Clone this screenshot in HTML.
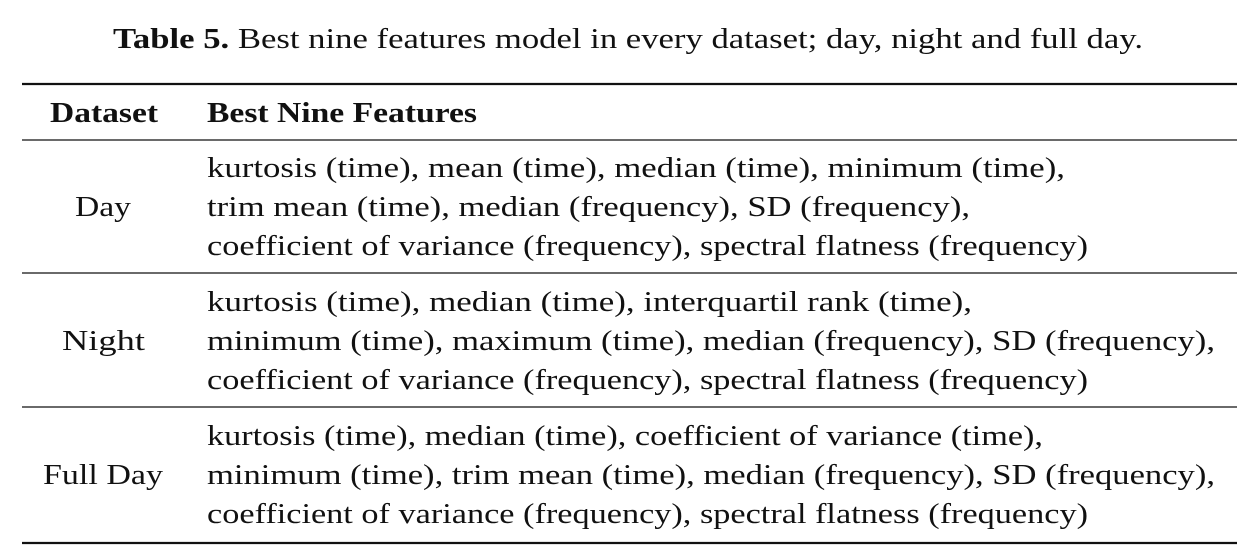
<!DOCTYPE html>
<html><head><meta charset="utf-8"><style>
html,body{margin:0;padding:0;background:#fff;width:1250px;height:555px;overflow:hidden}
svg{display:block}
text{font-family:"Liberation Serif",serif;font-size:29px;fill:#111}
.b{font-weight:bold}
</style></head><body>
<svg width="1250" height="555">
<text x="113" y="48" textLength="1030" lengthAdjust="spacingAndGlyphs"><tspan class="b">Table 5.</tspan> Best nine features model in every dataset; day, night and full day.</text>
<line x1="22" y1="84" x2="1237" y2="84" stroke="#111" stroke-width="2.2"/>
<text class="b" x="50" y="122" textLength="108" lengthAdjust="spacingAndGlyphs">Dataset</text>
<text class="b" x="207" y="122" textLength="270" lengthAdjust="spacingAndGlyphs">Best Nine Features</text>
<line x1="22" y1="140" x2="1237" y2="140" stroke="#111" stroke-width="1.2"/>
<text x="75" y="216" textLength="56" lengthAdjust="spacingAndGlyphs">Day</text>
<text x="207" y="177" textLength="858" lengthAdjust="spacingAndGlyphs">kurtosis (time), mean (time), median (time), minimum (time),</text>
<text x="207" y="216" textLength="763" lengthAdjust="spacingAndGlyphs">trim mean (time), median (frequency), SD (frequency),</text>
<text x="207" y="255" textLength="881" lengthAdjust="spacingAndGlyphs">coefficient of variance (frequency), spectral flatness (frequency)</text>
<line x1="22" y1="273" x2="1237" y2="273" stroke="#111" stroke-width="1.2"/>
<text x="62" y="350" textLength="83" lengthAdjust="spacingAndGlyphs">Night</text>
<text x="207" y="311" textLength="765" lengthAdjust="spacingAndGlyphs">kurtosis (time), median (time), interquartil rank (time),</text>
<text x="207" y="350" textLength="1008" lengthAdjust="spacingAndGlyphs">minimum (time), maximum (time), median (frequency), SD (frequency),</text>
<text x="207" y="389" textLength="881" lengthAdjust="spacingAndGlyphs">coefficient of variance (frequency), spectral flatness (frequency)</text>
<line x1="22" y1="407" x2="1237" y2="407" stroke="#111" stroke-width="1.2"/>
<text x="43" y="484" textLength="120" lengthAdjust="spacingAndGlyphs">Full Day</text>
<text x="207" y="445" textLength="836" lengthAdjust="spacingAndGlyphs">kurtosis (time), median (time), coefficient of variance (time),</text>
<text x="207" y="484" textLength="1008" lengthAdjust="spacingAndGlyphs">minimum (time), trim mean (time), median (frequency), SD (frequency),</text>
<text x="207" y="523" textLength="881" lengthAdjust="spacingAndGlyphs">coefficient of variance (frequency), spectral flatness (frequency)</text>
<line x1="22" y1="543" x2="1237" y2="543" stroke="#111" stroke-width="2.2"/>
</svg>
</body></html>
